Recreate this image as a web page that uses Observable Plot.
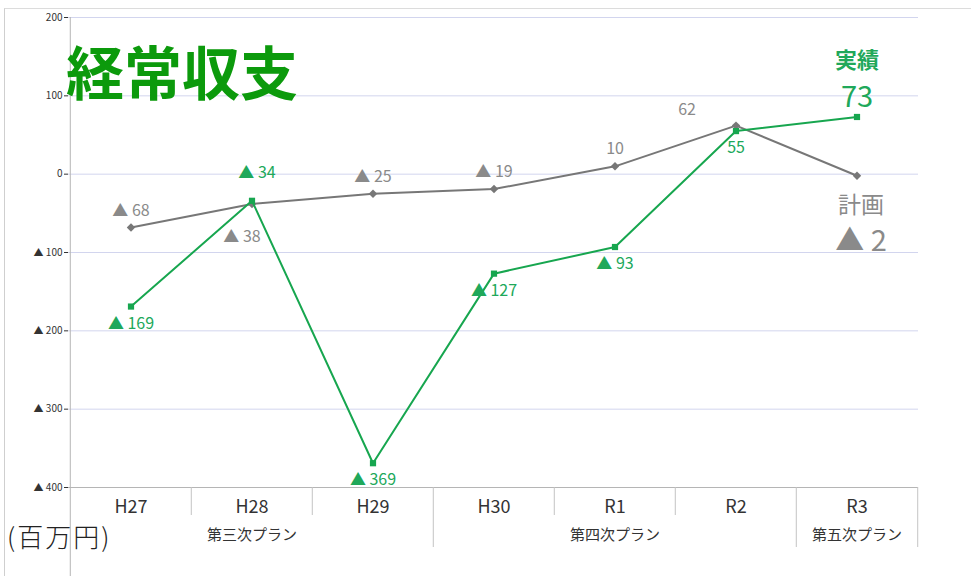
<!DOCTYPE html>
<html>
<head>
<meta charset="utf-8">
<script src="https://cdn.jsdelivr.net/npm/d3@7"></script>
<script src="https://cdn.jsdelivr.net/npm/@observablehq/plot@0.6"></script>
<style>
  body { margin: 0; background: #fff; }
  #wrap { position: relative; width: 971px; height: 576px; overflow: hidden; font-family: "Noto Sans CJK JP", "Noto Sans", sans-serif; }
  #border { position: absolute; left: 4px; top: 8px; right: -2px; bottom: -2px; border-left: 1px solid #cfcfcf; border-top: 1px solid #dcdcdc; }
  #chart { position: absolute; left: 0; top: 0; }
  #title { position: absolute; left: 66px; top: 41px; font-size: 58px; line-height: 1; font-weight: 700; color: #0c9a0c; white-space: nowrap; }
  #unit { position: absolute; left: 7px; top: 523px; font-size: 26px; line-height: 1; color: #222; white-space: nowrap; letter-spacing: 2px; font-weight: 300; }
</style>
</head>
<body>
<div id="wrap">
  <div id="border"></div>
  <div id="chart"></div>
  <div id="title">経常収支</div>
  <div id="unit">(百万円)</div>
</div>
<script>
// ---- data ----
const categories = ["H27", "H28", "H29", "H30", "R1", "R2", "R3"];
const planValues = [-68, -38, -25, -19, 10, 62, -2];
const actualValues = [-169, -34, -369, -127, -93, 55, 73];
const planGroups = ["第三次プラン", "第三次プラン", "第三次プラン", "第四次プラン", "第四次プラン", "第四次プラン", "第五次プラン"];
const yTicks = [-400, -300, -200, -100, 0, 100, 200];
const seriesNames = { plan: "計画", actual: "実績" };

// ---- layout (label placement) ----
const planLabelPlace = ["above", "belowLeft", "above", "above", "above", "aboveLeft", "end"];
const actualLabelPlace = ["below", "aboveRight", "below", "below", "below", "below", "end"];

const W = 971, H = 576;
const mTop = 17, mBottom = 89, mLeft = 68, mRight = 53;
const bw = (W - mLeft - mRight) / categories.length;
const frameH = H - mTop - mBottom;

const GREEN = "#17a64f", GREEN_TXT = "#20a85a", GRAY = "#777", GRAY_TXT = "#8a8a8a";
const FONT = "Noto Sans CJK JP";

const fmt = v => v < 0 ? "▲ " + (-v) : String(v);

const rows = categories.map((c, i) => ({
  cat: c, plan: planValues[i], actual: actualValues[i], group: planGroups[i],
  planPlace: planLabelPlace[i], actualPlace: actualLabelPlace[i], i
}));

// group label rows: middle category of each group
const groupRows = [];
d3.groups(rows, d => d.group).forEach(([g, rs]) => {
  groupRows.push({ group: g, cat: rs[Math.floor((rs.length - 1) / 2)].cat });
});

const edges = rows.map((d, i) => ({
  cat: d.cat,
  kind: i === 0 ? "axis" : (planGroups[i] !== planGroups[i - 1] ? "long" : "short")
}));

const planOffsets = {
  above: { dx: 0, dy: -17 },
  belowLeft: { dx: -10, dy: 33 },
  aboveLeft: { dx: -49, dy: -16 }
};
const actualOffsets = {
  below: { dx: 0, dy: 17 },
  aboveRight: { dx: 5, dy: -28 }
};

const labelMarks = [];
for (const [k, o] of Object.entries(planOffsets)) {
  labelMarks.push(Plot.text(rows.filter(d => d.planPlace === k), {
    x: "cat", y: "plan", text: d => fmt(d.plan), dx: o.dx, dy: o.dy,
    fill: GRAY_TXT, fontSize: 16, lineAnchor: "middle"
  }));
}
for (const [k, o] of Object.entries(actualOffsets)) {
  labelMarks.push(Plot.text(rows.filter(d => d.actualPlace === k), {
    x: "cat", y: "actual", text: d => fmt(d.actual), dx: o.dx, dy: o.dy,
    fill: GREEN_TXT, fontSize: 16, lineAnchor: "middle"
  }));
}
const endRows = rows.filter(d => d.planPlace === "end");
labelMarks.push(
  Plot.text(endRows, { x: "cat", y: "actual", text: () => seriesNames.actual, dy: -56, fill: GREEN_TXT, fontSize: 22, fontWeight: 700, lineAnchor: "middle" }),
  Plot.text(endRows, { x: "cat", y: "actual", text: d => fmt(d.actual), dy: -19, fill: GREEN_TXT, fontSize: 29, lineAnchor: "middle" }),
  Plot.text(endRows, { x: "cat", y: "plan", text: () => seriesNames.plan, dx: 4, dy: 30, fill: GRAY_TXT, fontSize: 23, lineAnchor: "middle" }),
  Plot.text(endRows, { x: "cat", y: "plan", text: d => fmt(d.plan), dx: 4, dy: 66, fill: GRAY_TXT, fontSize: 29, lineAnchor: "middle" })
);

const chart = Plot.plot({
  width: W, height: H,
  marginTop: mTop, marginBottom: mBottom, marginLeft: mLeft, marginRight: mRight,
  style: { fontFamily: FONT, fontSize: "10px", color: "#333", background: "transparent" },
  x: { type: "band", domain: categories, padding: 0, axis: null },
  y: { domain: [-400, 200], ticks: yTicks, tickFormat: fmt, tickSize: 4, tickPadding: 2, label: null },
  marks: [
    Plot.ruleY(yTicks.filter(d => d > -400), { stroke: "#d2d5ee", strokeWidth: 1 }),
    Plot.ruleY([-400], { stroke: "#b5b5b5" }),
    Plot.ruleX(edges.filter(d => d.kind === "axis"), { x: "cat", dx: -bw / 2, stroke: "#b5b5b5", insetBottom: -mBottom }),
    Plot.ruleX(edges.filter(d => d.kind === "short"), { x: "cat", dx: -bw / 2, stroke: "#c4c4c4", insetTop: frameH, insetBottom: -28 }),
    Plot.ruleX(edges.filter(d => d.kind === "long"), { x: "cat", dx: -bw / 2, stroke: "#c4c4c4", insetTop: frameH, insetBottom: -60 }),
    Plot.ruleX(rows.slice(-1), { x: "cat", dx: bw / 2, stroke: "#c4c4c4", insetTop: frameH, insetBottom: -60 }),
    Plot.text(rows, { x: "cat", frameAnchor: "bottom", dy: 20, text: "cat", fontSize: 18, fill: "#333", lineAnchor: "middle" }),
    Plot.text(groupRows, { x: "cat", frameAnchor: "bottom", dy: 48, text: "group", fontSize: 15, fill: "#333", lineAnchor: "middle" }),
    Plot.line(rows, { x: "cat", y: "plan", stroke: GRAY, strokeWidth: 2 }),
    Plot.dot(rows, { x: "cat", y: "plan", symbol: "diamond2", r: 3.8, fill: GRAY, stroke: "none" }),
    Plot.line(rows, { x: "cat", y: "actual", stroke: GREEN, strokeWidth: 2 }),
    Plot.dot(rows, { x: "cat", y: "actual", symbol: "square", r: 3.5, fill: GREEN, stroke: "none" }),
    ...labelMarks
  ]
});
document.getElementById("chart").appendChild(chart);
</script>
</body>
</html>
